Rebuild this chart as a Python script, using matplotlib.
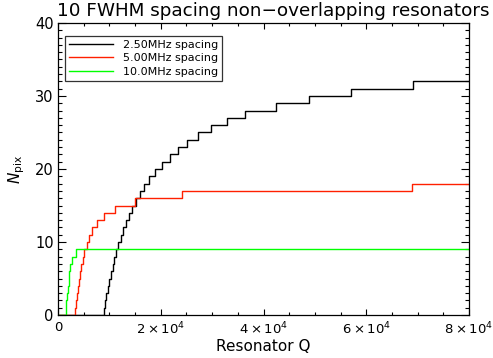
import matplotlib
matplotlib.use("Agg")
import matplotlib.pyplot as plt
from matplotlib.ticker import MultipleLocator, FixedLocator, FixedFormatter

# Q values at which N_pix steps up by one
q_steps_2p5 = [8900, 9150, 9400, 9680, 9970, 10280, 10610, 10960, 11340, 11750,
               12200, 12690, 13230, 13820, 14460, 15170, 15950, 16810, 17770, 18880,
               20170, 21800, 23300, 25100, 27300, 29800, 32800, 36400, 42400, 48800,
               57100, 69100]
q_steps_5p0 = [3370, 3550, 3740, 3930, 4130, 4340, 4560, 4790, 5150, 5560,
               6050, 6700, 7650, 8950, 11100, 15000, 24100, 68900]
q_steps_10p0 = [1460, 1600, 1740, 1890, 2050, 2220, 2420, 2670, 3600]

series_labels = ["2.50MHz spacing", "5.00MHz spacing", "10.0MHz spacing"]
series_colors = ["black", "#ff2000", "#00ff00"]

q_max = 80000
x_ticks = [0, 20000, 40000, 60000, 80000]
x_ticklabels = ["0", r"$2\times10^{4}$", r"$4\times10^{4}$", r"$6\times10^{4}$", r"$8\times10^{4}$"]
y_ticks = [0, 10, 20, 30, 40]

fig = plt.figure(figsize=(4.93, 3.58), dpi=100)
ax = fig.add_axes([58/493, 1 - 315/358, (469-58)/493, (315-23)/358])

for steps, lab, col in zip([q_steps_2p5, q_steps_5p0, q_steps_10p0], series_labels, series_colors):
    xs = [0] + steps + [q_max]
    ys = list(range(len(steps) + 1)) + [len(steps)]
    ax.plot(xs, ys, drawstyle="steps-post", color=col, lw=1.0, label=lab)

ax.set_xlim(0, q_max)
ax.set_ylim(0, 40)
ax.xaxis.set_major_locator(FixedLocator(x_ticks))
ax.xaxis.set_major_formatter(FixedFormatter(x_ticklabels))
ax.xaxis.set_minor_locator(MultipleLocator(5000))
ax.yaxis.set_major_locator(FixedLocator(y_ticks))
ax.yaxis.set_minor_locator(MultipleLocator(1))

ax.tick_params(axis="both", which="both", direction="in", top=True, right=True, width=0.8)
ax.tick_params(axis="x", which="major", length=4.5, pad=4, labelsize=9.5)
ax.tick_params(axis="x", which="minor", length=2.3)
ax.tick_params(axis="y", which="major", length=6, pad=3, labelsize=10.5)
ax.tick_params(axis="y", which="minor", length=3)
for sp in ax.spines.values():
    sp.set_linewidth(0.9)

ax.set_xlabel("Resonator Q", fontsize=11, labelpad=1)
ax.set_ylabel(r"$N_{\rm pix}$", fontsize=11, labelpad=6)
fig.text(273.5/493, 1 - 11/358, "10 FWHM spacing non\u2212overlapping resonators",
         fontsize=13.2, ha="center", va="center")

leg = ax.legend(loc="upper left", fontsize=8, frameon=True, fancybox=False,
                edgecolor="black", handlelength=4.0, handletextpad=0.9,
                borderpad=0.35, labelspacing=0.3, borderaxespad=0,
                bbox_to_anchor=(0.017, 0.955))
leg.get_frame().set_linewidth(0.9)

fig.savefig("out.png", dpi=100)
